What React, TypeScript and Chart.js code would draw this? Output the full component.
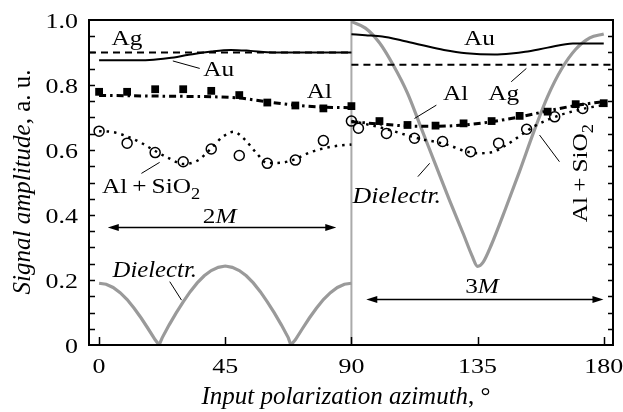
import React, { useEffect, useRef } from "react";
import { Chart, registerables } from "chart.js";
Chart.register(...registerables);

// ---------- axes ----------
const X_MIN = -3.6;
const X_MAX = 183.3;
const Y_MIN = 0;
const Y_MAX = 1.0;
const xTicks = [0, 45, 90, 135, 180];
const yTicks = [0, 0.2, 0.4, 0.6, 0.8, 1.0];
const yTickLabels = ["0", "0.2", "0.4", "0.6", "0.8", "1.0"];
const yMinorStep = 0.05;
const divider = [90, 90];
const dividerY = [0, 1.0];

// ---------- Dielectric ----------
const dielLeftX = [0, 2.5, 5, 7.5, 10, 12.5, 15, 17.5, 20, 21.4, 22.5, 25, 27.5, 30, 32.5, 35, 37.5, 40, 42.5, 45, 47.5, 50, 52.5, 55, 57.5, 60, 62.5, 65, 67.5, 68.4, 70, 72.5, 75, 77.5, 80, 82.5, 85, 87.5, 90];
const dielLeftY = [0.19, 0.187, 0.177, 0.161, 0.14, 0.113, 0.083, 0.05, 0.016, 0, 0.022, 0.062, 0.099, 0.133, 0.164, 0.191, 0.213, 0.229, 0.239, 0.243, 0.239, 0.229, 0.213, 0.191, 0.164, 0.133, 0.099, 0.062, 0.022, 0, 0.016, 0.05, 0.083, 0.113, 0.14, 0.161, 0.177, 0.187, 0.19];
const dielRightX = [90, 95, 100, 105, 110, 115, 120, 125, 130, 133, 135, 137, 140, 145, 150, 155, 160, 165, 170, 175, 180];
const dielRightY = [0.995, 0.975, 0.93, 0.86, 0.775, 0.665, 0.555, 0.445, 0.34, 0.275, 0.242, 0.255, 0.31, 0.42, 0.535, 0.655, 0.765, 0.85, 0.91, 0.945, 0.957];

// ---------- Au ----------
const auLeftX = [0, 10, 18, 25, 32, 40, 47, 54, 60, 70, 80, 90];
const auLeftY = [0.876, 0.876, 0.877, 0.883, 0.893, 0.903, 0.908, 0.905, 0.901, 0.9, 0.9, 0.9];
const auRightX = [90, 95, 101, 108, 115, 123, 131, 141, 147, 152, 160, 169, 175, 180];
const auRightY = [0.956, 0.953, 0.949, 0.937, 0.923, 0.908, 0.898, 0.894, 0.897, 0.902, 0.915, 0.928, 0.928, 0.928];

// ---------- Ag ----------
const agLeftX = [X_MIN, 90];
const agLeftY = [0.9, 0.9];
const agRightX = [90, X_MAX];
const agRightY = [0.862, 0.862];

// ---------- Al ----------
const alLineLeftX = [0, 10, 20, 30, 40, 50, 60, 70, 80, 90];
const alLineLeftY = [0.768, 0.767, 0.766, 0.765, 0.764, 0.76, 0.748, 0.738, 0.732, 0.73];
const alLineRightX = [90, 100, 110, 120, 130, 140, 150, 160, 170, 180];
const alLineRightY = [0.687, 0.68, 0.674, 0.673, 0.677, 0.687, 0.702, 0.72, 0.737, 0.749];
const alPtsX = [0, 10, 20, 30, 40, 50, 60, 70, 80, 90, 100, 110, 120, 130, 140, 150, 160, 170, 180];
const alPtsY = [0.779, 0.779, 0.787, 0.787, 0.782, 0.769, 0.746, 0.737, 0.728, 0.735, 0.689, 0.677, 0.675, 0.682, 0.689, 0.705, 0.718, 0.741, 0.744];

// ---------- Al + SiO2 ----------
const alsLineLeftX = [0, 5, 10, 15, 20, 25, 30, 35, 40, 44, 48, 52, 56, 60, 65, 70, 75, 80, 85, 90];
const alsLineLeftY = [0.658, 0.655, 0.642, 0.622, 0.597, 0.574, 0.557, 0.567, 0.605, 0.64, 0.656, 0.632, 0.592, 0.56, 0.561, 0.572, 0.592, 0.605, 0.613, 0.617];
const alsLineRightX = [90, 95, 100, 105, 110, 115, 120, 125, 130, 135, 140, 145, 150, 155, 160, 165, 170, 175, 180];
const alsLineRightY = [0.689, 0.68, 0.67, 0.658, 0.645, 0.633, 0.625, 0.614, 0.598, 0.59, 0.593, 0.614, 0.643, 0.672, 0.693, 0.709, 0.721, 0.731, 0.738];
const alsPtsX = [0, 10, 20, 30, 40, 50, 60, 70, 80, 90, 92.5, 102.5, 112.5, 122.5, 132.5, 142.5, 152.5, 162.5, 172.5];
const alsPtsY = [0.658, 0.621, 0.592, 0.564, 0.603, 0.583, 0.559, 0.569, 0.629, 0.689, 0.667, 0.651, 0.636, 0.626, 0.595, 0.621, 0.664, 0.702, 0.728];

const zip = (xs: number[], ys: number[]) => xs.map((x, i) => ({ x, y: ys[i] }));

const FONT = '"Liberation Serif", "Times New Roman", serif';
type Seg = { t: string; it?: boolean; sub?: boolean };

function richText(
  ctx: CanvasRenderingContext2D,
  segs: Seg[],
  x: number,
  y: number,
  size: number,
  align: "left" | "center" | "right",
  sx = 1,
  rot = 0
) {
  ctx.save();
  ctx.translate(x, y);
  if (rot) ctx.rotate(rot);
  ctx.scale(sx, 1);
  const f = (s: Seg) => `${s.it ? "italic " : ""}${s.sub ? Math.round(size * 0.72) : size}px ${FONT}`;
  let total = 0;
  for (const s of segs) {
    ctx.font = f(s);
    total += ctx.measureText(s.t).width;
  }
  let cx = align === "left" ? 0 : align === "center" ? -total / 2 : -total;
  ctx.textBaseline = "alphabetic";
  ctx.textAlign = "left";
  ctx.fillStyle = "#000";
  for (const s of segs) {
    ctx.font = f(s);
    ctx.fillText(s.t, cx, s.sub ? size * 0.28 : 0);
    cx += ctx.measureText(s.t).width;
  }
  ctx.restore();
}

const decor = {
  id: "decor",
  afterDatasetsDraw(chart: any) {
    const ctx: CanvasRenderingContext2D = chart.ctx;
    const xs = chart.scales.x;
    const ys = chart.scales.y;
    const a = chart.chartArea;
    const px = (v: number) => xs.getPixelForValue(v);
    const py = (v: number) => ys.getPixelForValue(v);

    ctx.save();
    ctx.strokeStyle = "#000";
    ctx.lineWidth = 2;
    ctx.strokeRect(a.left, a.top, a.right - a.left, a.bottom - a.top);

    ctx.lineWidth = 1.5;
    ctx.beginPath();
    for (let v = Y_MIN + yMinorStep; v < Y_MAX - 1e-9; v += yMinorStep) {
      const y = Math.round(py(v)) + 0.5;
      ctx.moveTo(a.left, y);
      ctx.lineTo(a.left + 6, y);
      ctx.moveTo(a.right, y);
      ctx.lineTo(a.right - 5, y);
    }
    for (const t of xTicks) {
      const x = Math.round(px(t)) + 0.5;
      ctx.moveTo(x, a.bottom);
      ctx.lineTo(x, a.bottom - 8);
    }
    ctx.stroke();

    yTicks.forEach((t, i) => {
      richText(ctx, [{ t: yTickLabels[i] }], 78, py(t) + 8, 22, "right", 1.18);
    });
    xTicks.forEach((t) => {
      richText(ctx, [{ t: String(t) }], px(t), 373, 22, "center", 1.18);
    });

    richText(ctx, [{ t: "Signal amplitude", it: true }, { t: ", a. u." }], 30, 182, 25, "center", 1, -Math.PI / 2);
    richText(ctx, [{ t: "Input polarization azimuth", it: true }, { t: ", °" }], 346, 404, 25, "center", 1);

    const leader = (x1: number, y1: number, x2: number, y2: number) => {
      ctx.beginPath();
      ctx.lineWidth = 1;
      ctx.moveTo(px(x1), py(y1));
      ctx.lineTo(px(x2), py(y2));
      ctx.stroke();
    };
    const arrow = (x1: number, x2: number, y: number) => {
      const X1 = px(x1), X2 = px(x2), Y = Math.round(py(y)) + 0.5;
      ctx.beginPath();
      ctx.lineWidth = 1.3;
      ctx.moveTo(X1 + 6, Y);
      ctx.lineTo(X2 - 6, Y);
      ctx.stroke();
      ctx.beginPath();
      ctx.moveTo(X1, Y);
      ctx.lineTo(X1 + 11, Y - 3.5);
      ctx.lineTo(X1 + 11, Y + 3.5);
      ctx.closePath();
      ctx.moveTo(X2, Y);
      ctx.lineTo(X2 - 11, Y - 3.5);
      ctx.lineTo(X2 - 11, Y + 3.5);
      ctx.closePath();
      ctx.fillStyle = "#000";
      ctx.fill();
    };

    const S = 22;
    const SX = 1.15;
    const alsio: Seg[] = [{ t: "Al\u2009+\u2009SiO" }, { t: "2", sub: true }];

    richText(ctx, [{ t: "Ag" }], px(9.9), py(0.923), S, "center", SX);
    richText(ctx, [{ t: "Au" }], px(42.7), py(0.828), S, "center", SX);
    leader(26.3, 0.874, 35.9, 0.851);
    richText(ctx, [{ t: "Al" }], px(78.6), py(0.76), S, "center", SX);
    richText(ctx, alsio, px(1.0), py(0.468), S, "left", SX);
    leader(15.1, 0.528, 21.6, 0.562);
    richText(ctx, [{ t: "2" }, { t: "M", it: true }], px(43), py(0.374), S, "center", SX);
    arrow(3.1, 84.6, 0.362);
    richText(ctx, [{ t: "Dielectr.", it: true }], px(4.8), py(0.21), 24, "left", 1.03);
    leader(25.2, 0.195, 29.4, 0.138);

    richText(ctx, [{ t: "Au" }], px(135.7), py(0.923), S, "center", SX);
    richText(ctx, [{ t: "Al" }], px(127.2), py(0.754), S, "center", SX);
    leader(120.3, 0.738, 112.5, 0.697);
    richText(ctx, [{ t: "Ag" }], px(144.3), py(0.754), S, "center", SX);
    leader(147, 0.81, 152.4, 0.851);
    richText(ctx, alsio, px(173.9), py(0.529), S, "center", SX, -Math.PI / 2);
    leader(164.2, 0.564, 157.1, 0.646);
    richText(ctx, [{ t: "Dielectr.", it: true }], px(90.4), py(0.436), 24, "left", 1.08);
    leader(113.7, 0.518, 117.9, 0.559);
    richText(ctx, [{ t: "3" }, { t: "M", it: true }], px(136.6), py(0.159), S, "center", SX);
    arrow(95.3, 179.9, 0.141);

    ctx.restore();
  },
};

const GREY = "#9a9a9a";

export default function App() {
  const ref = useRef<HTMLCanvasElement | null>(null);
  useEffect(() => {
    if (!ref.current) return;
    const lineDs = (data: any, extra: any) => ({
      data,
      pointRadius: 0,
      borderColor: "#000",
      borderWidth: 2,
      fill: false,
      cubicInterpolationMode: "monotone",
      ...extra,
    });
    const chart = new Chart(ref.current, {
      type: "line",
      data: {
        datasets: [
          lineDs(zip(alPtsX, alPtsY), {
            showLine: false,
            pointRadius: 5.5,
            pointStyle: "rect",
            pointBackgroundColor: "#000",
            pointBorderColor: "#000",
            pointBorderWidth: 0,
          }),
          lineDs(zip(alsPtsX, alsPtsY), {
            showLine: false,
            pointRadius: 5,
            pointStyle: "circle",
            pointBackgroundColor: "rgba(0,0,0,0)",
            pointBorderColor: "#000",
            pointBorderWidth: 1.5,
          }),
          lineDs(zip(auLeftX, auLeftY), {}),
          lineDs(zip(auRightX, auRightY), {}),
          lineDs(zip(agLeftX, agLeftY), { borderDash: [7, 5], cubicInterpolationMode: "default", tension: 0 }),
          lineDs(zip(agRightX, agRightY), { borderDash: [7, 5], cubicInterpolationMode: "default", tension: 0 }),
          lineDs(zip(alLineLeftX, alLineLeftY), { borderWidth: 3, borderDash: [7, 4, 2.5, 4] }),
          lineDs(zip(alLineRightX, alLineRightY), { borderWidth: 3, borderDash: [7, 4, 2.5, 4] }),
          lineDs(zip(alsLineLeftX, alsLineLeftY), { borderWidth: 2.5, borderDash: [2.5, 5] }),
          lineDs(zip(alsLineRightX, alsLineRightY), { borderWidth: 2.5, borderDash: [2.5, 5] }),
          lineDs(zip(dielLeftX, dielLeftY), { borderColor: GREY, borderWidth: 3.2, cubicInterpolationMode: "default", tension: 0 }),
          lineDs(zip(dielRightX, dielRightY), { borderColor: GREY, borderWidth: 3.2 }),
          lineDs(zip(divider, dividerY), { borderColor: "#aaaaaa", borderWidth: 2, cubicInterpolationMode: "default", tension: 0 }),
        ],
      },
      options: {
        animation: false,
        responsive: false,
        maintainAspectRatio: false,
        layout: { padding: { left: 89, right: 10, top: 20, bottom: 67 } },
        plugins: { legend: { display: false }, tooltip: { enabled: false } },
        scales: {
          x: { type: "linear", min: X_MIN, max: X_MAX, display: false },
          y: { type: "linear", min: Y_MIN, max: Y_MAX, display: false },
        },
      },
      plugins: [decor],
    } as any);
    let alive = true;
    const fonts = (document as any).fonts;
    if (fonts && fonts.load) {
      Promise.all([fonts.load(`22px "Liberation Serif"`), fonts.load(`italic 22px "Liberation Serif"`)])
        .then(() => {
          if (alive) chart.update();
        })
        .catch(() => {});
    }
    return () => {
      alive = false;
      chart.destroy();
    };
  }, []);
  return (
    <canvas
      ref={ref}
      width={623}
      height={412}
      style={{ position: "fixed", left: 0, top: 0, display: "block", background: "#fff" }}
    />
  );
}
